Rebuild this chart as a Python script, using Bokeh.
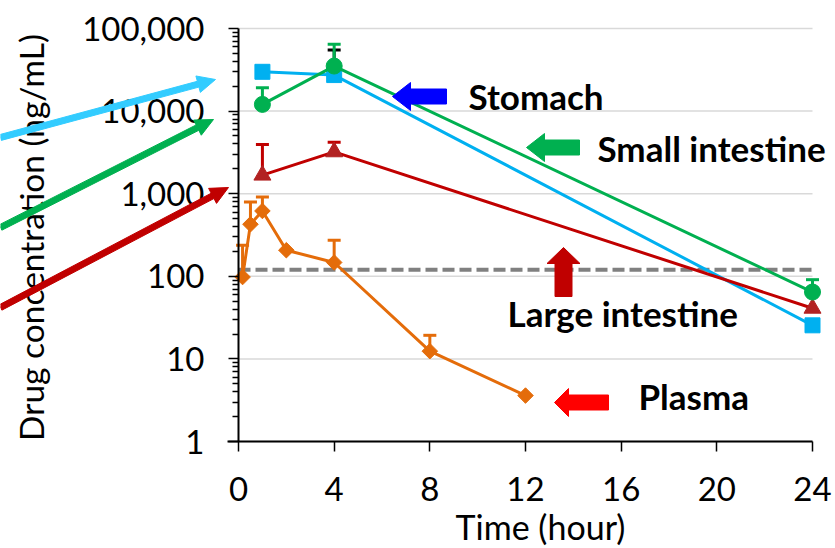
import numpy as np
from bokeh.plotting import figure
from bokeh.models import (Range1d, FixedTicker, NumeralTickFormatter, Label, PolyAnnotation)
from bokeh.embed import file_html
from bokeh.resources import INLINE

# ---------------- data ----------------
x_ticks = [0, 4, 8, 12, 16, 20, 24]
y_ticks = [1, 10, 100, 1000, 10000, 100000]

stomach_t = [1, 4, 24]
stomach_c = [29900, 27300, 25.5]
stomach_err_t = [4]
stomach_err_hi = [54800]

small_t = [1, 4, 24]
small_c = [12050, 35100, 64.5]
small_err_t = [1, 4, 24]
small_err_hi = [19150, 64300, 91]

large_t = [1, 4, 24]
large_c = [1675, 3210, 41]
large_err_t = [1, 4]
large_err_hi = [3950, 4210]

plasma_t = [0.17, 0.5, 1, 2, 4, 8, 12]
plasma_c = [98, 427, 618, 207, 147, 12.4, 3.6]
plasma_err_t = [0.17, 0.5, 1, 4, 8]
plasma_err_hi = [238, 795, 915, 273, 19.3]

loq = 120

# ---------------- layout ----------------
FONT = "Lato"
FS_TICK = "33px"
FS_YTITLE = "33.5px"
FS_XTITLE = "34px"
FS_LAB = "35px"

W, H = 835, 548
X0_PX, X24_PX = 238, 812        # canvas pixel of t=0 and t=24
Y1_PX, YTOP_PX = 441, 28        # canvas pixel of 1 and 100,000
PX_X = (X24_PX - X0_PX) / (x_ticks[-1] - x_ticks[0])
PX_Y = (Y1_PX - YTOP_PX) / np.log10(y_ticks[-1] / y_ticks[0])
LABEL_DY = 13                   # correction of label baseline placement


def t_at(px):
    return (px - X0_PX) / PX_X


def v_at(py):
    return 10 ** ((Y1_PX - py) / PX_Y)


p = figure(width=W, height=H,
           x_range=Range1d(t_at(0), t_at(W)), y_range=Range1d(v_at(H), v_at(0)),
           y_axis_type="log", output_backend="svg", toolbar_location=None,
           min_border_left=0, min_border_right=0, min_border_top=0, min_border_bottom=0)
p.outline_line_color = None
p.background_fill_color = "white"
p.border_fill_color = "white"
p.xgrid.visible = False
p.ygrid.visible = False

yax = p.yaxis[0]
yax.ticker = FixedTicker(ticks=y_ticks,
                         minor_ticks=[d * k for d in y_ticks[:-1] for k in range(2, 10)])
yax.formatter = NumeralTickFormatter(format="0,0")
yax.fixed_location = x_ticks[0]
yax.bounds = (y_ticks[0], y_ticks[-1])
xax = p.xaxis[0]
xax.ticker = FixedTicker(ticks=x_ticks)
xax.fixed_location = y_ticks[0]
xax.bounds = (t_at(X0_PX - 11), x_ticks[-1])

for ax in (xax, yax):
    ax.axis_line_color = "black"
    ax.axis_line_width = 2
    ax.major_tick_line_color = "black"
    ax.major_tick_line_width = 1.5
    ax.major_tick_in = 0
    ax.major_tick_out = 10
    ax.major_label_text_font = FONT
    ax.major_label_text_font_size = FS_TICK
    ax.major_label_text_color = "black"
yax.minor_tick_in = 0
yax.minor_tick_out = 6
yax.minor_tick_line_color = "black"
yax.minor_tick_line_width = 1.5
xax.minor_tick_line_color = None
yax.major_label_standoff = 24
xax.major_label_standoff = 25

# gridlines and LOQ reference line, limited to the axis extent
p.segment(x0=x_ticks[0], x1=x_ticks[-1], y0=y_ticks, y1=y_ticks,
          line_color="#D9D9D9", line_width=1.5)
p.segment(x0=x_ticks[0], x1=x_ticks[-1], y0=loq, y1=loq,
          line_color="#808080", line_width=4, line_dash="12 5")


def series(t, c, et, ehi, line_color, marker, mcolor, msize, angle=0.0, cap_color=None):
    p.line(t, c, line_color=line_color, line_width=3)
    base = dict(zip(t, c))
    if et:
        p.segment(x0=et, y0=[base[k] for k in et], x1=et, y1=ehi,
                  line_color=cap_color or line_color, line_width=3)
        p.scatter(et, ehi, marker="dash", size=13, line_color=cap_color or line_color,
                  line_width=3)
    p.scatter(t, c, marker=marker, size=msize, fill_color=mcolor, line_color=mcolor,
              angle=angle)


series(plasma_t, plasma_c, plasma_err_t, plasma_err_hi, "#E46C0A", "square", "#E46C0A", 11,
       angle=np.pi / 4)
series(stomach_t, stomach_c, stomach_err_t, stomach_err_hi, "#00B0F0", "square", "#00B0F0", 15,
       cap_color="black")
series(large_t, large_c, large_err_t, large_err_hi, "#C00000", "triangle", "#B22222", 17)
series(small_t, small_c, small_err_t, small_err_hi, "#00B050", "circle", "#00B050", 16)


# ---------------- arrows (annotations, given by canvas pixel of tail and tip) ----------------
def block_arrow(tail, tip, shaft_w, head_w, head_len, color):
    (x0, y0), (x1, y1) = tail, tip
    dx, dy = x1 - x0, y1 - y0
    L = float(np.hypot(dx, dy))
    ux, uy = dx / L, dy / L
    nx, ny = -uy, ux
    pts = [(-L, shaft_w / 2), (-head_len, shaft_w / 2), (-head_len, head_w / 2), (0, 0),
           (-head_len, -head_w / 2), (-head_len, -shaft_w / 2), (-L, -shaft_w / 2)]
    xs = [t_at(x1 + a * ux + b * nx) for a, b in pts]
    ys = [v_at(y1 + a * uy + b * ny) for a, b in pts]
    p.add_layout(PolyAnnotation(xs=xs, ys=ys, fill_color=color, fill_alpha=1.0,
                                line_color=color, line_alpha=1.0, line_width=1,
                                level="overlay"))


# axis titles (drawn first so the incoming arrows lie over them)
p.add_layout(Label(x=t_at(30), y=v_at(237), text="Drug concentration (ng/mL)",
                   angle=np.pi / 2, text_font=FONT, text_font_size=FS_YTITLE,
                   text_color="black", text_align="center", text_baseline="middle"))
p.add_layout(Label(x=t_at(540), y=v_at(539 - LABEL_DY), text="Time (hour)",
                   text_font=FONT, text_font_size=FS_XTITLE, text_color="black",
                   text_align="center", text_baseline="alphabetic"))

# arrows coming in from the left edge
block_arrow((0, 137), (215, 79), 6, 17, 18, "#33CCFF")
block_arrow((0, 227), (213, 119), 6, 17, 18, "#00B050")
block_arrow((0, 307), (228, 187), 6, 17, 18, "#C00000")
# in-plot arrows
block_arrow((446, 96), (392, 96), 15, 28, 18, "#0000FF")
block_arrow((579, 147), (526, 147), 15, 28, 18, "#00B050")
block_arrow((563, 296), (563, 247), 17, 33, 16, "#C00000")
block_arrow((608, 402), (554, 402), 15, 28, 14, "#FF0000")

for txt, px, py in [("Stomach", 468, 108), ("Small intestine", 597, 160),
                    ("Large intestine", 507, 325), ("Plasma", 638, 408)]:
    p.add_layout(Label(x=t_at(px), y=v_at(py - LABEL_DY), text=txt, text_font=FONT,
                       text_font_size=FS_LAB, text_font_style="bold", text_color="black",
                       text_baseline="alphabetic", text_align="left"))

open("out.html", "w").write(file_html(p, INLINE))
